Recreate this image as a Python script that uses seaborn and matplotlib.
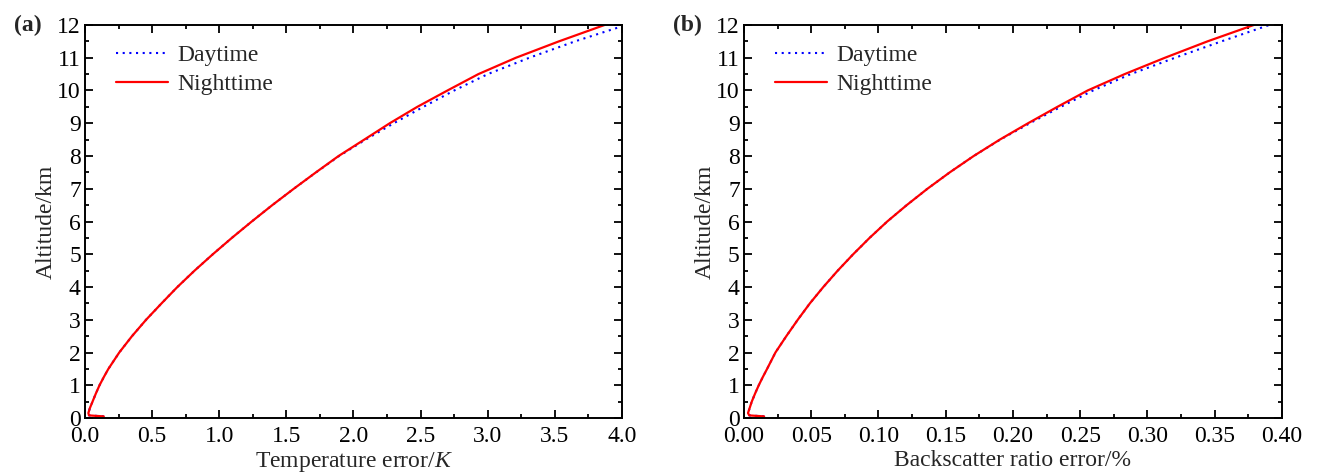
import numpy as np
import pandas as pd
import matplotlib
matplotlib.use("Agg")
import matplotlib.pyplot as plt
from matplotlib.ticker import MultipleLocator, FuncFormatter
import seaborn as sns

# Altitude grid (km)
altitude = [0.05, 0.08, 0.15, 0.3, 0.5, 0.75, 1.0, 1.25, 1.5, 2.0, 2.5, 3.0, 3.5, 4.0, 4.5, 5.0,
            5.5, 6.0, 6.5, 7.0, 7.5, 8.0, 8.5, 9.0, 9.5, 10.0, 10.5, 11.0, 11.5, 12.0]

# (a) temperature error (K)
temp_day = [0.14, 0.03, 0.025, 0.036, 0.056, 0.081, 0.108, 0.14, 0.174, 0.255, 0.35, 0.455, 0.57,
            0.688, 0.816, 0.952, 1.094, 1.242, 1.395, 1.555, 1.721, 1.893, 2.09, 2.30, 2.52, 2.75,
            3.00, 3.31, 3.65, 4.03]
temp_night = [0.14, 0.03, 0.025, 0.036, 0.056, 0.081, 0.108, 0.14, 0.174, 0.255, 0.35, 0.455, 0.57,
              0.688, 0.816, 0.952, 1.094, 1.242, 1.395, 1.555, 1.72, 1.889, 2.08, 2.27, 2.475, 2.70,
              2.93, 3.21, 3.53, 3.87]

# (b) backscatter ratio error (%)
bsr_day = [0.015, 0.004, 0.003, 0.0042, 0.0058, 0.0083, 0.011, 0.014, 0.0172, 0.0234, 0.0315,
           0.040, 0.049, 0.0590, 0.0697, 0.0812, 0.0934, 0.1065, 0.121, 0.1364, 0.153, 0.1708,
           0.1905, 0.2125, 0.2355, 0.2595, 0.2875, 0.3205, 0.355, 0.3905]
bsr_night = [0.015, 0.004, 0.003, 0.0042, 0.0058, 0.0083, 0.011, 0.014, 0.0172, 0.0234, 0.0315,
             0.040, 0.049, 0.0590, 0.0697, 0.0812, 0.0934, 0.1065, 0.121, 0.1364, 0.153, 0.1708,
             0.1902, 0.2112, 0.233, 0.2555, 0.283, 0.313, 0.3446, 0.379]

sns.set_theme(style="ticks")
plt.rcParams["font.family"] = ["Liberation Serif", "DejaVu Serif"]
plt.rcParams["mathtext.fontset"] = "custom"
plt.rcParams["mathtext.it"] = "Liberation Serif:italic"
plt.rcParams["mathtext.rm"] = "Liberation Serif"

FS = 17
fig = plt.figure(figsize=(13.2, 4.76), dpi=100)
ax_a = fig.add_axes([0.0644, 0.1218, 0.4068, 0.8257])
ax_b = fig.add_axes([0.5636, 0.1218, 0.4076, 0.8257])

panels = [
    (ax_a, temp_day, temp_night, (0, 4.0), 0.5, 0.25, "Temperature error/$K$", "(a)", "{:.1f}", 0.0318),
    (ax_b, bsr_day, bsr_night, (0, 0.40), 0.05, 0.025, "Backscatter ratio error/%", "(b)", "{:.2f}", 0.5318),
]

for ax, day, night, xlim, xmaj, xmin, xlabel, tag, fmt, tag_x in panels:
    df = pd.DataFrame({"alt": altitude, "day": day, "night": night})
    sns.lineplot(data=df, x="day", y="alt", sort=False, estimator=None, ax=ax,
                 color="blue", linestyle=(0, (1, 2.2)), linewidth=1.5, label="Daytime")
    sns.lineplot(data=df, x="night", y="alt", sort=False, estimator=None, ax=ax,
                 color="red", linestyle="-", linewidth=1.6, label="Nighttime")
    ax.set_xlim(*xlim)
    ax.set_ylim(0, 12)
    ax.xaxis.set_major_locator(MultipleLocator(xmaj))
    ax.xaxis.set_minor_locator(MultipleLocator(xmin))
    ax.yaxis.set_major_locator(MultipleLocator(1))
    ax.yaxis.set_minor_locator(MultipleLocator(0.5))
    ax.xaxis.set_major_formatter(FuncFormatter(lambda v, p, f=fmt: f.format(v)))
    ax.tick_params(which="both", direction="in", top=True, right=True, labelsize=FS,
                   width=1.3, colors="black")
    ax.tick_params(axis="x", pad=6)
    ax.tick_params(axis="y", pad=3)
    ax.tick_params(which="major", length=6)
    ax.tick_params(which="minor", length=3)
    for s in ax.spines.values():
        s.set_visible(True)
        s.set_linewidth(1.4)
        s.set_color("black")
    ax.set_xlabel(xlabel, fontsize=FS, labelpad=2)
    ax.set_ylabel("Altitude/km", fontsize=FS, labelpad=0)
    ax.grid(False)
    ax.legend(loc="upper left", frameon=False, fontsize=FS, handlelength=2.2,
              handletextpad=0.42, labelspacing=0.32, borderaxespad=0.0,
              bbox_to_anchor=(0.04, 0.975))
    fig.text(tag_x, 0.9475, tag, fontsize=FS, fontweight="bold", ha="right", va="center")

fig.savefig("out.png", dpi=100)
